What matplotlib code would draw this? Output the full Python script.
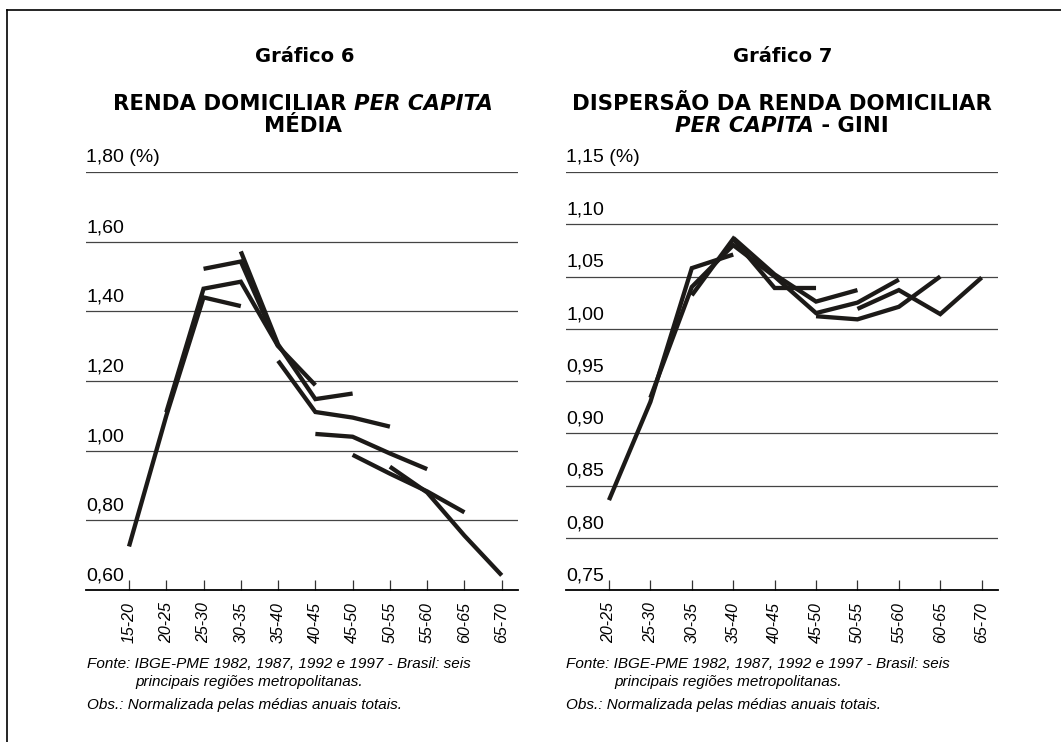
import matplotlib
matplotlib.use("Agg")
import matplotlib.pyplot as plt
from matplotlib.lines import Line2D

plt.rcParams['font.family'] = ['Liberation Sans', 'DejaVu Sans']

# ---------------- data ----------------
ages1 = ["15-20", "20-25", "25-30", "30-35", "35-40", "40-45",
         "45-50", "50-55", "55-60", "60-65", "65-70"]
# each cohort observed in 1982, 1987, 1992, 1997 (start index, values)
renda_start = [0, 1, 2, 3, 4, 5, 6, 7]
renda_values = [
    [0.725, 1.10, 1.44, 1.415],
    [1.11, 1.465, 1.485, 1.30],
    [1.522, 1.543, 1.30, 1.188],
    [1.572, 1.305, 1.148, 1.164],
    [1.258, 1.111, 1.095, 1.069],
    [1.048, 1.040, 0.992, 0.947],
    [0.988, 0.934, 0.883, 0.823],
    [0.954, 0.880, 0.756, 0.642],
]
renda_yticks = [0.60, 0.80, 1.00, 1.20, 1.40, 1.60, 1.80]

ages2 = ["20-25", "25-30", "30-35", "35-40", "40-45",
         "45-50", "50-55", "55-60", "60-65", "65-70"]
gini_start = [0, 1, 2, 3, 4, 5, 6]
gini_values = [
    [0.836, 0.930, 1.058, 1.071],
    [0.934, 1.040, 1.080, 1.050],
    [1.032, 1.086, 1.039, 1.039],
    [1.087, 1.052, 1.026, 1.037],
    [1.050, 1.015, 1.025, 1.047],
    [1.012, 1.009, 1.021, 1.050],
    [1.019, 1.037, 1.014, 1.049],
]
gini_yticks = [0.75, 0.80, 0.85, 0.90, 0.95, 1.00, 1.05, 1.10, 1.15]

W, H = 1061, 742
fig = plt.figure(figsize=(W / 100, H / 100), dpi=100)
fig.patch.set_facecolor("white")

# frame lines (top and left)
fig.add_artist(Line2D([7 / W, 1.0], [1 - 10 / H, 1 - 10 / H], transform=fig.transFigure,
                      color="black", lw=1.2))
fig.add_artist(Line2D([7 / W, 7 / W], [0.0, 1 - 10 / H], transform=fig.transFigure,
                      color="black", lw=1.2))

LINE_COLOR = "#1c1a18"


def make_axes(left_px, right_px, xlim, ylim, yticks, cats, starts, values):
    ax = fig.add_axes([left_px / W, 1 - 590 / H, (right_px - left_px) / W, 418 / H])
    ax.set_xlim(*xlim)
    ax.set_ylim(*ylim)
    for s in ax.spines.values():
        s.set_visible(False)
    ax.spines["bottom"].set_visible(True)
    ax.spines["bottom"].set_linewidth(1.3)
    ax.spines["bottom"].set_color("black")
    for yv in yticks[1:]:
        ax.axhline(yv, color="#444444", lw=0.9, zorder=1)
    ax.set_yticks([])
    ax.set_xticks(range(len(cats)))
    ax.set_xticklabels(cats, rotation=90, fontstyle="italic", fontsize=11.5)
    ax.tick_params(axis="x", direction="in", length=7, width=0.9, color="#333333", pad=9)
    for i, yv in enumerate(yticks):
        lbl = ("%.2f" % yv).replace(".", ",")
        if i == len(yticks) - 1:
            lbl += " (%)"
        ax.annotate(lbl, xy=(0, yv), xycoords=("axes fraction", "data"),
                    xytext=(0, 4), textcoords="offset points",
                    ha="left", va="bottom", fontsize=14)
    for st, vals in zip(starts, values):
        xs = list(range(st, st + len(vals)))
        ax.plot(xs, vals, color=LINE_COLOR, lw=3.1, solid_capstyle="butt",
                solid_joinstyle="miter", zorder=3)
    return ax


ax1 = make_axes(86, 518, (-1.154, 10.437), (0.60, 1.80), renda_yticks, ages1,
                renda_start, renda_values)
ax2 = make_axes(566, 998, (-1.038, 9.394), (0.75, 1.15), gini_yticks, ages2,
                gini_start, gini_values)

renderer = fig.canvas.get_renderer()


def mixed_line(pieces, xc_px, y_px, size):
    """pieces: list of (text, style). Centered at xc_px, vertical center y_px."""
    texts = []
    for txt, style in pieces:
        t = fig.text(0, 1 - y_px / H, txt, fontsize=size, fontweight="bold",
                     fontstyle=style, ha="left", va="center",
                     family=["DejaVu Sans"])
        texts.append(t)
    widths = [t.get_window_extent(renderer).width for t in texts]
    total = sum(widths)
    x = xc_px - total / 2
    for t, w in zip(texts, widths):
        t.set_x(x / W)
        x += w


# titles
mixed_line([("Gráfico 6", "normal")], 305, 57, 14)
mixed_line([("RENDA DOMICILIAR ", "normal"), ("PER CAPITA", "italic")], 303, 104, 15.3)
mixed_line([("MÉDIA", "normal")], 303, 126, 15.3)

mixed_line([("Gráfico 7", "normal")], 783, 57, 14)
mixed_line([("DISPERSÃO DA RENDA DOMICILIAR", "normal")], 782, 104, 15.3)
mixed_line([("PER CAPITA", "italic"), (" - GINI", "normal")], 782, 126, 15.3)

# footnotes
for x0 in (87, 566):
    fig.text(x0 / W, 1 - 664 / H, "Fonte: IBGE-PME 1982, 1987, 1992 e 1997 - Brasil: seis",
             fontsize=11, fontstyle="italic", ha="left", va="center")
    fig.text((x0 + 48) / W, 1 - 682 / H, "principais regiões metropolitanas.",
             fontsize=11, fontstyle="italic", ha="left", va="center")
    fig.text(x0 / W, 1 - 705 / H, "Obs.: Normalizada pelas médias anuais totais.",
             fontsize=11, fontstyle="italic", ha="left", va="center")

fig.savefig("out.png", dpi=100, facecolor="white")
